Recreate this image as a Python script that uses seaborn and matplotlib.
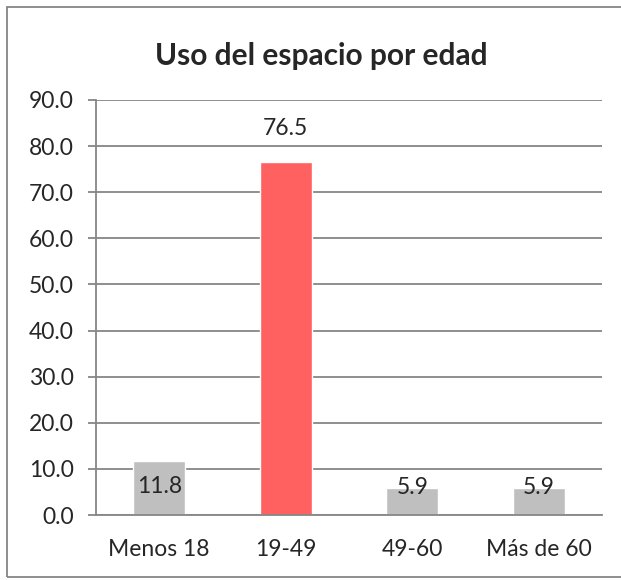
import pandas as pd
import seaborn as sns
import matplotlib.pyplot as plt
from matplotlib.patches import Rectangle

# Chart data
grupos = ["Menos 18", "19-49", "49-60", "Más de 60"]
porcentaje = [11.8, 76.5, 5.9, 5.9]
colores = ["#BFBFBF", "#FF6161", "#BFBFBF", "#BFBFBF"]

df = pd.DataFrame({"grupo": grupos, "pct": porcentaje})

sns.set_style("white")
plt.rcParams["font.family"] = ["Lato", "DejaVu Sans"]

fig = plt.figure(figsize=(6.21, 5.80), dpi=100)
ax = fig.add_axes([96 / 621, 1 - 515 / 580, 506 / 621, 415 / 580])

sns.barplot(data=df, x="grupo", y="pct", hue="grupo", palette=colores,
            width=0.41, legend=False, saturation=1, ax=ax)

ax.set_ylim(0, 90)
ax.set_xlim(-0.5, len(grupos) - 0.5)
ax.set_yticks(range(0, 91, 10))
ax.set_yticklabels([f"{v:.1f}" for v in range(0, 91, 10)])
ax.yaxis.grid(True, color="#868686", linewidth=1.3)
ax.set_axisbelow(True)
ax.set_xlabel("")
ax.set_ylabel("")
for s in ["top", "right"]:
    ax.spines[s].set_visible(False)
for s in ["left", "bottom"]:
    ax.spines[s].set_color("#868686")
    ax.spines[s].set_linewidth(1.3)
ax.tick_params(axis="y", length=6, width=1.3, color="#868686", labelsize=16.5,
               pad=10, left=True)
ax.tick_params(axis="x", length=0, labelsize=16.5, pad=17)

# Value labels, roughly where Excel puts them
for i, v in enumerate(porcentaje):
    if v > 50:
        dy = 24
    elif v > 10:
        dy = -19
    else:
        dy = 0
    ax.annotate(f"{v:.1f}", (i, v), xytext=(0, dy), textcoords="offset points",
                ha="center", va="center", fontsize=16.5)

fig.text(321 / 621, 1 - 56 / 580, "Uso del espacio por edad",
         ha="center", va="center", fontsize=21.5, fontweight="bold")

fig.patches.append(Rectangle((7 / 621, 3 / 580), 620 / 621, 570 / 580,
                             transform=fig.transFigure, fill=False,
                             edgecolor="#868686", linewidth=1.3))

fig.savefig("out.png", dpi=100)
